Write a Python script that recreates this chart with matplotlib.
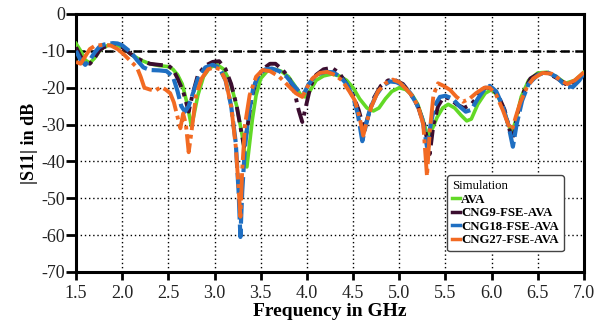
import matplotlib
matplotlib.use("Agg")
import matplotlib.pyplot as plt

# ---------------- data ----------------
f_ava = [1.5, 1.55, 1.6, 1.65, 1.7, 1.75, 1.8, 1.85, 1.9, 1.95, 2.0, 2.1, 2.2, 2.3, 2.4, 2.5, 2.55, 2.6,
         2.65, 2.7, 2.75, 2.78, 2.82, 2.88, 2.95, 3.03, 3.1, 3.17, 3.24, 3.3, 3.35, 3.38, 3.41, 3.45,
         3.5, 3.57, 3.65, 3.72, 3.8, 3.87, 3.93, 3.98, 4.03, 4.1, 4.18, 4.27, 4.35, 4.43, 4.5, 4.57,
         4.65, 4.72, 4.78, 4.85, 4.92, 5.0, 5.07, 5.14, 5.2, 5.26, 5.31, 5.36, 5.41, 5.47, 5.53, 5.6,
         5.67, 5.73, 5.78, 5.85, 5.93, 6.0, 6.06, 6.12, 6.18, 6.22, 6.26, 6.32, 6.4, 6.5, 6.6, 6.7,
         6.8, 6.9, 7.0]
s_ava = [-8, -10, -12.5, -13.3, -12, -10.2, -9, -8.5, -8.3, -8.5, -9, -11, -12.5, -13.5, -14, -14.3, -15, -16.5,
         -19, -24, -30.5, -27, -22, -17, -14.5, -13.8, -15, -18.5, -25, -33, -41.5, -35, -28.5, -22,
         -17.5, -15.5, -15, -15.5, -17, -19.5, -21.8, -22.5, -21, -18, -16.8, -16.3, -16.8, -18, -20, -23,
         -25.5, -26.3, -25.5, -23, -21, -20, -20.5, -22, -24.5, -29, -33.5, -31, -28, -25.5, -24.5, -25.5,
         -27.5, -29, -28.5, -24.5, -21.5, -20.5, -22, -25, -30, -32, -29, -22.5, -18, -16, -15.8, -17,
         -18.8, -18, -15.8]

f_cng9 = [1.5, 1.55, 1.6, 1.65, 1.7, 1.75, 1.8, 1.88, 1.95, 2.0, 2.1, 2.2, 2.3, 2.4, 2.5, 2.55, 2.6, 2.66,
          2.72, 2.76, 2.82, 2.9, 2.98, 3.05, 3.12, 3.18, 3.24, 3.29, 3.32, 3.36, 3.4, 3.45, 3.52, 3.6,
          3.66, 3.73, 3.8, 3.86, 3.91, 3.95, 3.99, 4.04, 4.1, 4.18, 4.27, 4.35, 4.43, 4.5, 4.56, 4.62,
          4.66, 4.72, 4.8, 4.88, 4.96, 5.04, 5.12, 5.2, 5.27, 5.33, 5.37, 5.42, 5.48, 5.55, 5.62, 5.7,
          5.78, 5.86, 5.93, 6.0, 6.07, 6.14, 6.2, 6.24, 6.28, 6.35, 6.42, 6.52, 6.6, 6.7, 6.8, 6.9, 7.0]
s_cng9 = [-9, -11.5, -13, -13.5, -12, -10, -9, -8.5, -8.5, -9, -11, -12.5, -13.5, -13.8, -14, -15, -17.5, -21,
          -26.5, -22, -16.5, -14, -13, -12.8, -15, -19, -25, -32, -36, -30, -23, -18, -15, -13.5,
          -13.5, -15, -17, -20.5, -26, -29.3, -25, -19.5, -16.5, -15, -14.6, -16, -19, -22, -26, -31.5,
          -28, -23, -19.5, -18, -18, -19, -21.5, -25, -30, -38, -30, -25, -22.5, -23, -24.5, -25.5,
          -24.5, -22, -20, -20, -22, -26, -32, -33, -27, -21, -17.5, -16, -16, -17.3, -19, -18.5, -16]

f_cng18 = [1.5, 1.55, 1.6, 1.65, 1.7, 1.75, 1.8, 1.9, 1.95, 2.0, 2.1, 2.16, 2.23, 2.3, 2.4, 2.48, 2.55, 2.6,
           2.64, 2.68, 2.72, 2.76, 2.82, 2.9, 2.98, 3.05, 3.12, 3.18, 3.23, 3.26, 3.28, 3.3, 3.33, 3.37,
           3.42, 3.48, 3.55, 3.62, 3.7, 3.78, 3.86, 3.93, 3.97, 4.02, 4.1, 4.2, 4.28, 4.36, 4.43, 4.5,
           4.55, 4.6, 4.64, 4.68, 4.75, 4.82, 4.9, 4.97, 5.05, 5.12, 5.19, 5.25, 5.3, 5.34, 5.38, 5.44,
           5.5, 5.58, 5.65, 5.72, 5.78, 5.85, 5.92, 5.98, 6.05, 6.12, 6.18, 6.23, 6.27, 6.33, 6.4, 6.5,
           6.6, 6.7, 6.8, 6.88, 6.95, 7.0]
s_cng18 = [-10, -12.5, -13.8, -12.5, -10.5, -9, -8.3, -7.9, -8, -8.5, -10.5, -12.5, -14.5, -15.2, -15.3, -15.5, -17, -21,
           -25, -26.5, -25, -22, -17.5, -14.5, -13.8, -14.5, -18, -25, -35, -48, -60.5, -48, -36, -27,
           -20, -16.5, -15, -14.8, -15.5, -17, -19.5, -21.5, -21.5, -19, -16.5, -15.7, -15.8, -17, -19, -22.5,
           -27, -34.5, -30, -26, -22, -19.5, -18.3, -18.5, -19.5, -21.5, -24.5, -28.5, -36, -30, -25, -22.5,
           -22.2, -23, -25, -26.5, -26, -23, -20.5, -19.5, -21, -25, -30, -36, -30, -23.5, -19, -16.5,
           -15.8, -17, -19.5, -19.8, -18, -16]

f_cng27 = [1.5, 1.55, 1.6, 1.65, 1.7, 1.75, 1.8, 1.88, 1.95, 2.02, 2.1, 2.16, 2.2, 2.24, 2.3, 2.36, 2.42, 2.47,
           2.52, 2.56, 2.6, 2.63, 2.66, 2.69, 2.72, 2.75, 2.8, 2.86, 2.93, 3.0, 3.06, 3.12, 3.18, 3.23,
           3.26, 3.28, 3.3, 3.33, 3.38, 3.45, 3.52, 3.6, 3.7, 3.8, 3.88, 3.95, 4.0, 4.06, 4.14, 4.22,
           4.3, 4.38, 4.46, 4.52, 4.57, 4.61, 4.65, 4.7, 4.77, 4.85, 4.93, 5.0, 5.08, 5.15, 5.21, 5.26,
           5.3, 5.33, 5.37, 5.42, 5.48, 5.55, 5.62, 5.69, 5.76, 5.83, 5.92, 5.98, 6.05, 6.12, 6.18, 6.22,
           6.26, 6.31, 6.38, 6.45, 6.55, 6.65, 6.75, 6.82, 6.9, 7.0]
s_cng27 = [-13, -13.5, -11.5, -9.5, -8.7, -8.5, -8.3, -8.6, -9.5, -11, -13, -14.5, -17, -20, -20.5, -20.8, -19.8, -20.5,
           -21.5, -24, -28, -31, -27, -30, -37.5, -32, -22, -17.5, -15, -14.5, -15, -18, -25, -36,
           -47, -55, -42, -30, -22, -17, -15.2, -15.5, -17, -19.5, -21.5, -22.5, -20, -17.5, -16, -15.7,
           -16.5, -18, -21, -23.5, -28, -33, -29, -25, -21, -18.8, -17.8, -18.5, -20.5, -22.5, -25.5, -30,
           -44, -32, -22, -18.8, -19.5, -20.6, -22.5, -23.8, -23, -21.5, -20, -20, -22, -26, -30, -31.5,
           -28, -24, -20, -17.5, -16, -16.2, -18, -19, -18, -15.8]

x_ticks = [1.5, 2.0, 2.5, 3.0, 3.5, 4.0, 4.5, 5.0, 5.5, 6.0, 6.5, 7.0]
y_ticks = [0, -10, -20, -30, -40, -50, -60, -70]
threshold = -10

# ---------------- plot ----------------
plt.rcParams['font.family'] = ['Liberation Serif', 'DejaVu Serif']

fig = plt.figure(figsize=(6.06, 3.25), dpi=100)
ax = fig.add_axes([76 / 606, 1 - 272 / 325, (584 - 76) / 606, (272 - 14) / 325])

ax.plot(f_ava, s_ava, color='#62d926', lw=2.6, ls='-', label='AVA', zorder=3)
ax.plot(f_cng9, s_cng9, color='#3b0d2f', lw=2.8, ls=(0, (4, 1.5, 1, 1.5)), label='CNG9-FSE-AVA', zorder=4)
ax.plot(f_cng18, s_cng18, color='#1f6fc2', lw=3.0, ls=(0, (5, 1.2)), label='CNG18-FSE-AVA', zorder=4)
ax.plot(f_cng27, s_cng27, color='#f26a22', lw=2.8, ls=(0, (7, 1.2, 1, 1.2)), label='CNG27-FSE-AVA', zorder=5)

ax.axhline(threshold, color='black', lw=1.8, ls=(0, (3.5, 2.2)), zorder=2)

ax.set_xlim(1.5, 7.0)
ax.set_ylim(-70, 0)
ax.set_xticks(x_ticks)
ax.set_xticklabels([f"{v:.1f}" for v in x_ticks])
ax.set_yticks(y_ticks)
ax.set_yticklabels([str(v) for v in y_ticks])

ax.grid(True, color='black', ls=(0, (1, 2)), lw=1.0)
ax.set_axisbelow(True)

for sp in ax.spines.values():
    sp.set_linewidth(2.2)
    sp.set_color('black')

ax.tick_params(axis='x', direction='out', length=6, width=2, labelsize=13, colors='black',
               labelcolor='#222222', pad=3)
ax.tick_params(axis='y', direction='out', length=7, width=2, labelsize=13, colors='black',
               labelcolor='#222222', pad=1)

ax.set_xlabel('Frequency in GHz', fontsize=14, fontweight='bold', labelpad=1)
ax.set_ylabel('|S11| in dB', fontsize=13, fontweight='bold', labelpad=2)

leg = ax.legend(loc='upper left', bbox_to_anchor=((447 - 76) / 508, (272 - 175) / 258),
                title='Simulation', fontsize=9.2, title_fontsize=9.2,
                prop={'weight': 'bold', 'size': 9.2, 'family': 'Liberation Serif'},
                handlelength=0.6, handletextpad=0.1, borderpad=0.4, labelspacing=0.12,
                fancybox=True, framealpha=1, edgecolor='#444444', borderaxespad=0)
leg._legend_box.align = 'left'
leg.get_frame().set_linewidth(1.0)
for line in leg.get_lines():
    line.set_linestyle('-')
    line.set_linewidth(2.5)

fig.savefig('out.png', dpi=100)
